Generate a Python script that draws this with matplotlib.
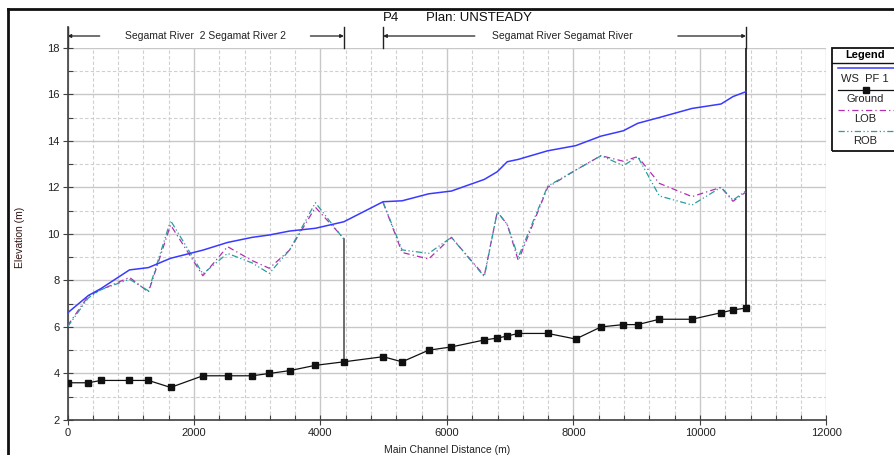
import matplotlib
matplotlib.use('Agg')
import matplotlib.pyplot as plt
import matplotlib.patches as patches
from matplotlib.lines import Line2D
from matplotlib.transforms import blended_transform_factory
from matplotlib.ticker import MultipleLocator

plt.rcParams['font.family'] = ['Liberation Sans', 'DejaVu Sans']

# reach "Segamat River 2" (upstream part) and "Segamat River"
x_r2 = [0, 330, 530, 980, 1280, 1630, 2140, 2530, 2920, 3190, 3510, 3920, 4370]
x_r1 = [4990, 5290, 5710, 6070, 6590, 6795, 6953, 7127, 7592, 8035, 8435,
        8788, 9015, 9357, 9874, 10332, 10522, 10727]

ws_r2 = [6.6, 7.35, 7.65, 8.45, 8.55, 8.95, 9.3, 9.63, 9.85, 9.95, 10.12, 10.24, 10.52]
ws_r1 = [11.38, 11.42, 11.72, 11.84, 12.34, 12.67, 13.1, 13.2, 13.57, 13.79, 14.2,
         14.43, 14.75, 15.0, 15.39, 15.58, 15.9, 16.11]

gr_r2 = [3.6, 3.6, 3.7, 3.7, 3.7, 3.4, 3.9, 3.9, 3.9, 4.0, 4.12, 4.35, 4.5]
gr_r1 = [4.72, 4.5, 5.0, 5.14, 5.44, 5.52, 5.61, 5.72, 5.72, 5.48, 6.0,
         6.1, 6.1, 6.33, 6.33, 6.61, 6.73, 6.81]

lob_r2 = [6.05, 7.33, 7.6, 8.13, 7.5, 10.38, 8.2, 9.45, 8.85, 8.52, 9.3, 11.14, 9.8]
lob_r1 = [11.35, 9.2, 8.92, 9.85, 8.2, 10.95, 10.4, 8.85, 12.0, 12.74, 13.36,
          13.12, 13.32, 12.17, 11.6, 12.0, 11.4, 11.8]

rob_r2 = [6.0, 7.25, 7.6, 8.05, 7.55, 10.57, 8.28, 9.16, 8.75, 8.3, 9.3, 11.34, 9.76]
rob_r1 = [11.35, 9.31, 9.16, 9.85, 8.16, 10.95, 10.4, 9.0, 12.05, 12.74, 13.36,
          12.93, 13.32, 11.63, 11.24, 12.0, 11.45, 11.85]

W, H = 895, 455
fig = plt.figure(figsize=(W/100, H/100), dpi=100)
ax = fig.add_axes([67.5/W, 1-420/H, (826.5-67.5)/W, (420-47.7)/H])

def fy(py):
    return 1 - py/H

ax.set_xlim(0, 12000)
ax.set_ylim(2, 18)
ax.xaxis.set_major_locator(MultipleLocator(2000))
ax.xaxis.set_minor_locator(MultipleLocator(400))
ax.yaxis.set_major_locator(MultipleLocator(2))
ax.yaxis.set_minor_locator(MultipleLocator(1))
ax.grid(which='major', color='#c8c8c8', lw=1.0, ls='-')
ax.grid(which='minor', color='#cfcfcf', lw=0.8, ls=(0, (3, 2)))
ax.set_axisbelow(True)
for s in ['top', 'right']:
    ax.spines[s].set_visible(False)
for s in ['left', 'bottom']:
    ax.spines[s].set_color('#404040')
    ax.spines[s].set_linewidth(1.2)
ax.tick_params(which='major', direction='inout', length=7, width=0.8, color='#404040',
               labelsize=8, labelcolor='#222222', pad=2)
ax.tick_params(which='minor', direction='in', length=3.5, width=0.8, color='#404040')

xs = x_r2 + x_r1
ax.plot(xs, ws_r2 + ws_r1, color='#3a3aff', lw=1.1, zorder=4)
ax.plot(xs, gr_r2 + gr_r1, color='#111111', lw=0.9, marker='s', ms=4.2, zorder=5)
for xx, lob, rob in [(x_r2, lob_r2, rob_r2), (x_r1, lob_r1, rob_r1)]:
    ax.plot(xx, lob, color='#b030b0', lw=0.9, ls=(0, (5, 2.5, 1, 2.5)), zorder=3)
    ax.plot(xx, rob, color='#2a9d9d', lw=0.9, ls=(0, (5, 2, 1, 2, 1, 2)), zorder=3)

# junction lines
ax.plot([x_r2[-1], x_r2[-1]], [gr_r2[-1], rob_r2[-1]], color='#555555', lw=1.2, zorder=2)
ax.plot([x_r1[-1], x_r1[-1]], [gr_r1[-1], 18], color='#111111', lw=1.2, zorder=2)

fig.text(447/W, fy(450), 'Main Channel Distance (m)', fontsize=7.5, ha='center', va='center',
         color='#222222')
fig.text(20/W, fy(237), 'Elevation (m)', fontsize=7.5, ha='center', va='center',
         rotation=90, color='#331414')

# header: reach brackets
tr = blended_transform_factory(ax.transData, fig.transFigure)
ya = fy(36)
for x0, x1 in [(0, 4370), (4990, 10727)]:
    for xv in (x0, x1):
        ax.plot([xv, xv], [fy(27), fy(47.7)], color='#222222', lw=1.0,
                transform=tr, clip_on=False)

def bracket(x0, x1, a0, a1, label, xc):
    for tip, tail in [(x0, a0), (x1, a1)]:
        ax.annotate('', xy=(tip, ya), xytext=(tail, ya), xycoords=tr, textcoords=tr,
                    arrowprops=dict(arrowstyle='-|>', mutation_scale=5, lw=0.9,
                                    color='#222222', shrinkA=0, shrinkB=0))
    ax.text(xc, ya, label, transform=tr, ha='center', va='center', fontsize=7.5, color='#222222')

bracket(0, 4370, 510, 3840, 'Segamat River  2 Segamat River 2', 2180)
bracket(4990, 10727, 6440, 9650, 'Segamat River Segamat River', 7830)

fig.text(383/W, fy(18), 'P4', fontsize=9.5, va='center', ha='left', color='#111111')
fig.text(426/W, fy(18), 'Plan: UNSTEADY', fontsize=9.5, va='center', ha='left', color='#111111')

# outer frame
fig.add_artist(Line2D([8/W, 8/W], [0, fy(9)], color='#111111', lw=2, transform=fig.transFigure))
fig.add_artist(Line2D([8/W, 1], [fy(9), fy(9)], color='#111111', lw=2, transform=fig.transFigure))
# left spine extension above plot
fig.add_artist(Line2D([67.5/W, 67.5/W], [fy(27), fy(47.7)], color='#404040', lw=1.2,
                      transform=fig.transFigure))

# legend box
lx0 = 832/W
fig.add_artist(patches.Rectangle((lx0, fy(151)), 0.2, fy(47.7)-fy(151), fill=False,
                                 edgecolor='#111111', lw=1.3, transform=fig.transFigure))
fig.add_artist(Line2D([lx0, 1], [fy(62.5), fy(62.5)], color='#111111', lw=1.0,
                      transform=fig.transFigure))
fig.text(865/W, fy(55.5), 'Legend', fontsize=8, fontweight='bold', ha='center', va='center')
lx = [838/W, 894/W]
fig.add_artist(Line2D(lx, [fy(68)]*2, color='#3a3aff', lw=1.1, transform=fig.transFigure))
fig.text(865/W, fy(79), 'WS  PF 1', fontsize=8, ha='center', va='center', color='#222222')
fig.add_artist(Line2D(lx, [fy(89.5)]*2, color='#111111', lw=0.9, transform=fig.transFigure))
fig.add_artist(Line2D([866/W], [fy(89.5)], color='#111111', marker='s', ms=4, ls='none',
                      transform=fig.transFigure))
fig.text(865/W, fy(99.5), 'Ground', fontsize=8, ha='center', va='center', color='#222222')
fig.add_artist(Line2D(lx, [fy(109.5)]*2, color='#b030b0', lw=0.9, ls=(0, (5, 2.5, 1, 2.5)),
                      transform=fig.transFigure))
fig.text(865/W, fy(119.5), 'LOB', fontsize=8, ha='center', va='center', color='#222222')
fig.add_artist(Line2D(lx, [fy(130.5)]*2, color='#2a9d9d', lw=0.9, ls=(0, (5, 2, 1, 2, 1, 2)),
                      transform=fig.transFigure))
fig.text(865/W, fy(141), 'ROB', fontsize=8, ha='center', va='center', color='#222222')

fig.savefig('out.png', dpi=100)
